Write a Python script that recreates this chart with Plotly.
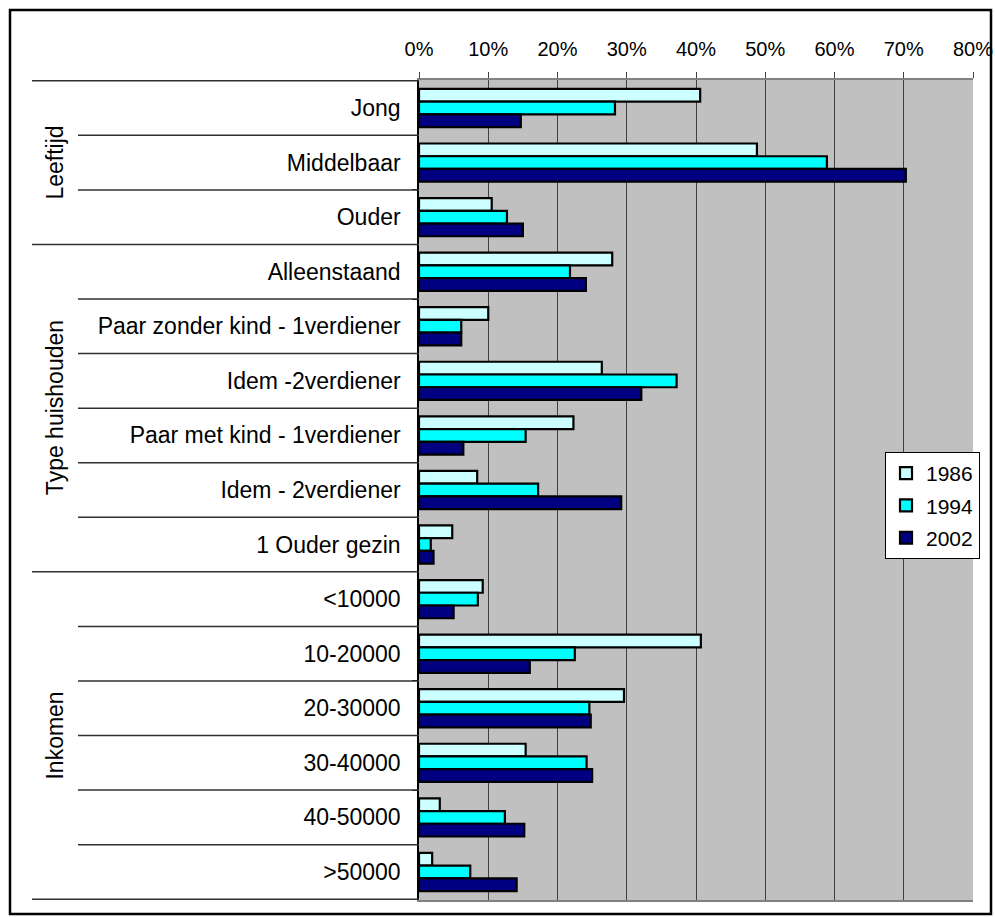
import plotly.graph_objects as go

categories = ["Jong", "Middelbaar", "Ouder",
              "Alleenstaand", "Paar zonder kind - 1verdiener", "Idem -2verdiener",
              "Paar met kind - 1verdiener", "Idem - 2verdiener", "1 Ouder gezin",
              "<10000", "10-20000", "20-30000", "30-40000", "40-50000", ">50000"]
groups = ["Leeftijd", "Type huishouden", "Inkomen"]
group_sizes = [3, 6, 6]

years = ["1986", "1994", "2002"]
v1986 = [0.406, 0.488, 0.105, 0.279, 0.100, 0.264, 0.223, 0.084, 0.048,
         0.092, 0.407, 0.296, 0.154, 0.030, 0.019]
v1994 = [0.283, 0.589, 0.127, 0.218, 0.061, 0.372, 0.154, 0.172, 0.017,
         0.085, 0.225, 0.246, 0.242, 0.124, 0.074]
v2002 = [0.147, 0.703, 0.150, 0.241, 0.061, 0.321, 0.064, 0.292, 0.021,
         0.050, 0.160, 0.248, 0.250, 0.152, 0.141]
colors = ["#CCFFFF", "#00FFFF", "#000080"]

FONT = "Liberation Sans, Arial, sans-serif"

W, H = 995, 917
L, R, T, B = 419, 22, 80, 17
pw, ph = W - L - R, H - T - B

def px_x(x):
    return (x - L) / pw

def px_y(y):
    return (H - B - y) / ph

fig = go.Figure()
for name, vals, col in zip(years, [v1986, v1994, v2002], colors):
    fig.add_trace(go.Bar(
        y=categories, x=vals, name=name, orientation="h",
        marker=dict(color=col, line=dict(color="black", width=2.2)),
        legendgroup=name,
    ))

shapes = []
n = len(categories)
boundaries_group = {-0.5}
acc = 0
for s in group_sizes:
    acc += s
    boundaries_group.add(acc - 0.5)
for i in range(n + 1):
    yb = i - 0.5
    x0 = px_x(32) if yb in boundaries_group else px_x(78)
    shapes.append(dict(type="line", xref="paper", yref="y", x0=x0, x1=0,
                       y0=yb, y1=yb, line=dict(color="#303030", width=1.5)))
# outer frame
shapes.append(dict(type="rect", xref="paper", yref="paper",
                   x0=px_x(10), x1=px_x(991), y0=px_y(914), y1=px_y(10),
                   line=dict(color="black", width=2.5)))

annotations = []
acc = 0
for g, s in zip(groups, group_sizes):
    mid = acc + (s - 1) / 2
    annotations.append(dict(text=g, xref="paper", yref="y", x=px_x(55), y=mid,
                            xanchor="center", yanchor="middle",
                            textangle=-90, showarrow=False,
                            font=dict(family=FONT, size=23, color="black")))
    acc += s

fig.update_layout(
    width=W, height=H,
    margin=dict(l=L, r=R, t=T, b=B, pad=0, autoexpand=False),
    paper_bgcolor="white", plot_bgcolor="#C0C0C0",
    barmode="group", bargap=0.30, bargroupgap=0,
    font=dict(family=FONT, size=21, color="black"),
    shapes=shapes, annotations=annotations,
    legend=dict(x=px_x(885), y=px_y(452), xanchor="left", yanchor="top",
                bgcolor="white", bordercolor="black", borderwidth=1,
                font=dict(family=FONT, size=21, color="black"),
                traceorder="grouped", tracegroupgap=2, itemwidth=30),
)
fig.update_xaxes(
    side="top", range=[0, 0.8], dtick=0.1, tick0=0, tickformat=".0%",
    showgrid=True, gridcolor="#404040", gridwidth=1.2,
    showline=True, linecolor="#808080", linewidth=1.5, mirror=True,
    ticks="outside", ticklen=6, tickcolor="#404040",
    ticklabelstandoff=8,
    tickfont=dict(family=FONT, size=20, color="black"),
    zeroline=False, fixedrange=True, automargin=False,
)
fig.update_yaxes(
    type="category", autorange="reversed", categoryorder="array",
    categoryarray=categories,
    showline=True, linecolor="black", linewidth=1.5,
    ticks="outside", ticklen=5, tickson="boundaries", tickcolor="black",
    ticklabelstandoff=12,
    tickfont=dict(family=FONT, size=23, color="black"),
    showgrid=False, zeroline=False, fixedrange=True, automargin=False,
)

fig.write_html("out.html")
